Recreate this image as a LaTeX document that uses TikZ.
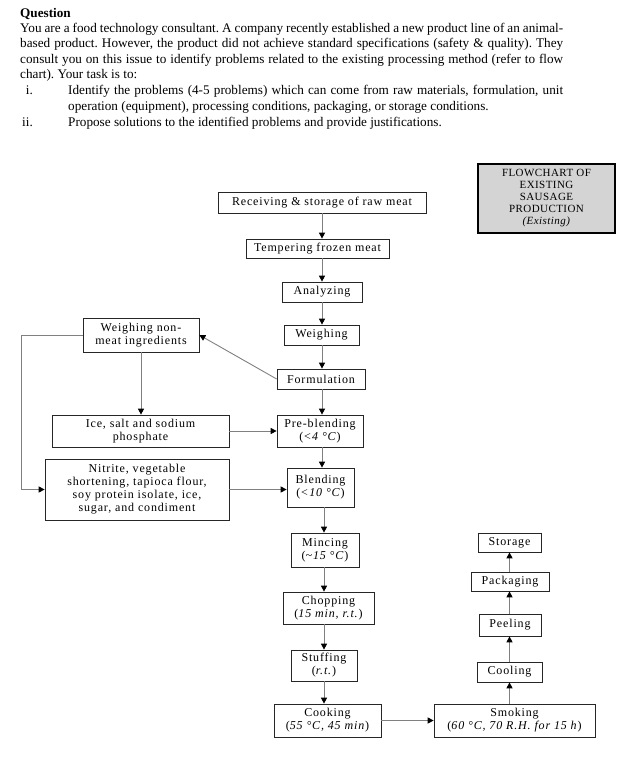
\documentclass[tikz,border=0pt]{standalone}
\usepackage{fontspec}
\setmainfont{Liberation Serif}
\newfontfamily\chartfont{Liberation Serif}[LetterSpace=7.0]
\newfontfamily\bannerfont{Liberation Serif}[LetterSpace=4.0]
\usetikzlibrary{arrows.meta, positioning}

\begin{document}
\begin{tikzpicture}[
            x=1pt, y=-1pt,
            stage/.style = {rectangle, draw=black!85, line width=0.7pt, align=center, inner sep=1pt, font=\chartfont\fontsize{12}{13}\selectfont},
            banner/.style = {stage, draw=black, line width=1.7pt, fill=black!17, font=\bannerfont\fontsize{11}{12}\selectfont},
            link/.style = {draw=black!50, line width=0.9pt},
            flow/.style = {link, -{Triangle[black, length=6pt, width=6pt]}},
            prose/.style = {inner sep=0pt, align=left, font=\fontsize{13.2}{15.3}\selectfont\frenchspacing}
        ]
            \useasboundingbox (0,0) rectangle (634,760);

            % --- 1. Question text ---
            \node [prose, anchor=north west] (question) at (20,8) {\textbf{Question}\\
            \makebox[543pt][s]{You are a food technology consultant. A company recently established a new product line of an animal-}\\
            \makebox[543pt][s]{based product. However, the product did not achieve standard specifications (safety \& quality). They}\\
            \makebox[543pt][s]{consult you on this issue to identify problems related to the existing processing method (refer to flow}\\
            chart). Your task is to:};

            \node [prose, anchor=base east] (labeli) at (33,94) {i.};
            \node [prose, anchor=north west, font=\fontsize{13.2}{16}\selectfont\frenchspacing] (taski) at (68,85) {\makebox[495pt][s]{Identify the problems (4-5 problems) which can come from raw materials, formulation, unit}\\
            operation (equipment), processing conditions, packaging, or storage conditions.};
            \node [prose, anchor=base east] (labelii) at (33,126) {ii.};
            \node [prose, anchor=base west] (taskii) at (68,126) {Propose solutions to the identified problems and provide justifications.};

            % --- 2. Flowchart nodes ---
            \node [banner, minimum width=137pt, minimum height=69pt] (heading) at (546.5,198.5) {FLOWCHART OF\\EXISTING\\SAUSAGE\\PRODUCTION\\\textit{(Existing)}};

            % main line
            \node [stage, minimum width=208pt, minimum height=21pt] (receive) at (322,202.5) {Receiving \& storage of raw meat};
            \node [stage, minimum width=143pt, minimum height=19pt] (temper) at (317.5,248.5) {Tempering frozen meat};
            \node [stage, minimum width=80pt, minimum height=20pt] (analyze) at (322,292) {Analyzing};
            \node [stage, minimum width=75pt, minimum height=20pt] (weigh) at (321.5,335) {Weighing};
            \node [stage, minimum width=88pt, minimum height=20pt] (formul) at (321,379) {Formulation};
            \node [stage, minimum width=86pt, minimum height=32pt] (preblend) at (320,431) {Pre-blending\\(\textit{<4 °C})};
            \node [stage, minimum width=67pt, minimum height=39pt] (blend) at (320.5,487.5) {Blending\\(\textit{<10 °C})};
            \node [stage, minimum width=68pt, minimum height=34pt] (mince) at (325,550) {Mincing\\(\textit{\textasciitilde15 °C})};
            \node [stage, minimum width=91pt, minimum height=32pt] (chop) at (328.5,608) {Chopping\\(\textit{15 min, r.t.})};
            \node [stage, minimum width=66pt, minimum height=31pt] (stuff) at (324,665.5) {Stuffing\\(\textit{r.t.})};
            \node [stage, minimum width=107pt, minimum height=33pt] (cook) at (327.5,720.5) {Cooking\\(\textit{55 °C, 45 min})};

            % non-meat ingredients
            \node [stage, minimum width=116pt, minimum height=34pt] (nonmeat) at (141,335) {Weighing non-\\meat ingredients};
            \node [stage, minimum width=177pt, minimum height=32pt] (ice) at (140.5,431) {Ice, salt and sodium\\phosphate};
            \node [stage, minimum width=184pt, minimum height=61pt] (nitrite) at (137,489.5) {Nitrite, vegetable\\shortening, tapioca flour,\\soy protein isolate, ice,\\sugar, and condiment};

            % after cooking
            \node [stage, minimum width=161pt, minimum height=33pt] (smoke) at (514.5,720.5) {Smoking\\(\textit{60 °C, 70 R.H. for 15 h})};
            \node [stage, minimum width=65pt, minimum height=20pt] (cool) at (509.5,672) {Cooling};
            \node [stage, minimum width=62pt, minimum height=22pt] (peel) at (510,625) {Peeling};
            \node [stage, minimum width=78pt, minimum height=19pt] (pack) at (510,581.5) {Packaging};
            \node [stage, minimum width=63pt, minimum height=19pt] (store) at (509.5,542.5) {Storage};

            \coordinate (upper) at (322,0);
            \coordinate (lower) at (324,0);
            \coordinate (rightaxis) at (509.5,0);

            % --- 3. Connections ---
            \draw [flow] (receive.south -| upper) -- (temper.north -| upper);
            \draw [flow] (temper.south -| upper) -- (analyze.north -| upper);
            \draw [flow] (analyze.south -| upper) -- (weigh.north -| upper);
            \draw [flow] (weigh.south -| upper) -- (formul.north -| upper);
            \draw [flow] (formul.south -| upper) -- (preblend.north -| upper);
            \draw [flow] (preblend.south -| upper) -- (blend.north -| upper);
            \draw [flow] (blend.south -| lower) -- (mince.north -| lower);
            \draw [flow] (mince.south -| lower) -- (chop.north -| lower);
            \draw [flow] (chop.south -| lower) -- (stuff.north -| lower);
            \draw [flow] (stuff.south -| lower) -- (cook.north -| lower);

            % side branch
            \draw [flow] (formul.west) -- (nonmeat.east);
            \draw [flow] (nonmeat.south) -- (nonmeat.south |- ice.north);
            \draw [flow] (nonmeat.west) -- ++(-61,0) |- (nitrite.west);
            \draw [flow] (ice.east) -- (preblend.west);
            \draw [flow] (nitrite.east) -- (nitrite.east -| blend.west);

            % smoking to storage
            \draw [flow] (cook.east) -- (smoke.west);
            \draw [flow] (smoke.north -| rightaxis) -- (cool.south -| rightaxis);
            \draw [flow] (cool.north -| rightaxis) -- (peel.south -| rightaxis);
            \draw [flow] (peel.north -| rightaxis) -- (pack.south -| rightaxis);
            \draw [flow] (pack.north -| rightaxis) -- (store.south -| rightaxis);

        \end{tikzpicture}
\end{document}
